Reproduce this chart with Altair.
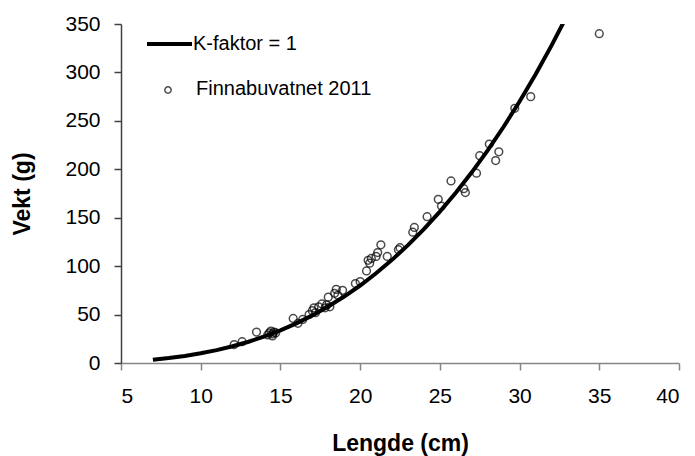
import altair as alt
import pandas as pd

# Length (cm) and weight (g) of sampled fish
lengde = [12.1, 12.6, 13.5, 14.2, 14.3, 14.4, 14.5, 14.6, 14.5, 14.7,
          15.8, 16.1, 16.4, 16.8, 17.0, 17.1, 17.2, 17.4, 17.6, 17.8,
          17.9, 18.0, 18.1, 18.4, 18.5, 18.6, 18.9, 19.7, 20.0, 20.4,
          20.5, 20.6, 20.7, 21.0, 21.1, 21.3, 21.7, 22.4, 22.5, 23.3,
          23.4, 24.2, 24.9, 25.1, 25.7, 26.5, 26.6, 27.3, 27.5, 28.1,
          28.5, 28.7, 29.7, 30.7, 35.0]
vekt = [19, 22, 32, 29, 31, 33, 30, 32, 28, 31,
        46, 41, 45, 50, 54, 57, 52, 58, 61, 57,
        60, 68, 58, 72, 76, 70, 75, 82, 84, 95,
        106, 103, 108, 110, 114, 122, 110, 117, 119, 135,
        140, 151, 169, 162, 188, 180, 176, 196, 214, 226,
        209, 218, 263, 275, 340]

# Reference curve for condition factor K = 1
k_lengde = [7, 8, 9, 10, 11, 12, 13, 14, 15, 16, 17, 18, 19, 20,
            21, 22, 23, 24, 25, 26, 27, 28, 29, 30, 31, 32, 33]
k_vekt = [3.43, 5.12, 7.29, 10.0, 13.31, 17.28, 21.97, 27.44, 33.75,
          40.96, 49.13, 58.32, 68.59, 80.0, 92.61, 106.48, 121.67,
          138.24, 156.25, 175.76, 196.83, 219.52, 243.89, 270.0,
          297.91, 327.68, 359.37]

fisk = pd.DataFrame({"lengde": lengde, "vekt": vekt})
kurve = pd.DataFrame({"lengde": k_lengde, "vekt": k_vekt})

FONT = "Liberation Sans"

x = alt.X("lengde:Q", title="Lengde (cm)",
          scale=alt.Scale(domain=[5, 40], nice=False, zero=False),
          axis=alt.Axis(values=[5, 10, 15, 20, 25, 30, 35, 40], grid=False,
                        domainColor="#868686", tickColor="#868686",
                        tickSize=7, labelPadding=15, titlePadding=26))
y = alt.Y("vekt:Q", title="Vekt (g)",
          scale=alt.Scale(domain=[0, 350], nice=False),
          axis=alt.Axis(values=[0, 50, 100, 150, 200, 250, 300, 350], grid=False,
                        domainColor="#404040", tickColor="#404040",
                        tickSize=7, labelPadding=14, titlePadding=30))

linje = alt.Chart(kurve).mark_line(color="black", strokeWidth=4, clip=True).encode(
    x=x, y=y, order="lengde:Q")

punkter = alt.Chart(fisk).mark_point(
    shape="circle", filled=False, color="black", size=60, strokeWidth=1.5
).encode(x=x, y=y)

# Legend entries
leg_linje = alt.Chart(pd.DataFrame({"a": [0]})).mark_rule(
    color="black", strokeWidth=4).encode(
    x=alt.value(26), x2=alt.value(71), y=alt.value(20))
leg_tekst1 = alt.Chart(pd.DataFrame({"t": ["K-faktor = 1"]})).mark_text(
    align="left", baseline="middle", font=FONT, fontSize=20, color="black").encode(
    x=alt.value(72), y=alt.value(20), text="t:N")
leg_punkt = alt.Chart(pd.DataFrame({"a": [0]})).mark_point(
    shape="circle", filled=False, color="black", size=40, strokeWidth=1.5).encode(
    x=alt.value(47), y=alt.value(66))
leg_tekst2 = alt.Chart(pd.DataFrame({"t": ["Finnabuvatnet 2011"]})).mark_text(
    align="left", baseline="middle", font=FONT, fontSize=20, color="black").encode(
    x=alt.value(75), y=alt.value(65), text="t:N")

chart = alt.layer(linje, punkter, leg_linje, leg_tekst1, leg_punkt, leg_tekst2).properties(
    width=558, height=339,
    background="white",
    autosize=alt.AutoSizeParams(type="none"),
    padding={"left": 121, "top": 24, "right": 16, "bottom": 93},
).configure_view(stroke=None).configure_axis(
    labelFont=FONT, labelFontSize=21, labelColor="black",
    titleFont=FONT, titleFontSize=23, titleFontWeight="bold", titleColor="black",
    domainWidth=1.5, tickWidth=1.5,
)

chart.save("out.html", embed_options={"renderer": "svg", "actions": False})
